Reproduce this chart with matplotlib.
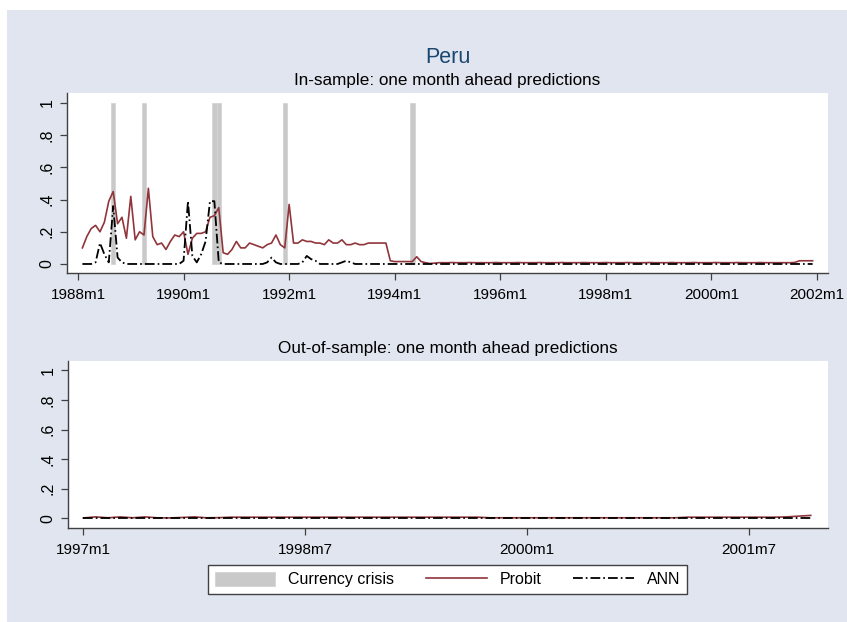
import numpy as np
import matplotlib
matplotlib.use("Agg")
import matplotlib.pyplot as plt
from matplotlib.patches import Rectangle, Patch
from matplotlib.lines import Line2D

plt.rcParams.update({
    "font.family": ["Liberation Sans", "DejaVu Sans"],
    "font.size": 11,
    "lines.scale_dashes": False,
})

# ---- data ----
IN_ORIGIN, IN_START = "1988m1", "1988m2"
OUT_ORIGIN, OUT_START = "1997m1", "1997m1"

crisis_months = ["1988m9", "1989m4", "1990m8", "1990m9", "1991m12", "1994m5"]

probit_in = [
    0.10, 0.17, 0.22, 0.24, 0.20, 0.26, 0.39, 0.45, 0.25, 0.29, 0.16, 0.42,
    0.15, 0.20, 0.18, 0.47, 0.17, 0.12, 0.13, 0.09, 0.14, 0.18, 0.17, 0.20,
    0.06, 0.16, 0.19, 0.19, 0.20, 0.29, 0.30, 0.35, 0.07, 0.06, 0.09, 0.14,
    0.10, 0.10, 0.13, 0.12, 0.11, 0.10, 0.12, 0.13, 0.18, 0.12, 0.10, 0.37,
    0.13, 0.13, 0.15, 0.14, 0.14, 0.13, 0.13, 0.12, 0.15, 0.13, 0.13, 0.15,
    0.12, 0.12, 0.13, 0.12, 0.12, 0.13, 0.13, 0.13, 0.13, 0.13, 0.02, 0.015,
    0.015, 0.015, 0.015, 0.015, 0.045, 0.015, 0.008, 0.003, 0.005, 0.008,
    0.008, 0.008, 0.009, 0.008, 0.008, 0.008, 0.009, 0.008, 0.008, 0.008,
    0.008, 0.008,
    0.009, 0.008, 0.008, 0.008, 0.008, 0.009, 0.008, 0.008, 0.008, 0.008,
    0.009, 0.008, 0.008, 0.008, 0.008, 0.009, 0.008, 0.008, 0.008, 0.008,
    0.009, 0.008, 0.008, 0.008, 0.008, 0.009, 0.008, 0.008, 0.008, 0.008,
    0.009, 0.008, 0.008, 0.008, 0.008, 0.009, 0.008, 0.008, 0.008, 0.008,
    0.009, 0.008, 0.008, 0.008, 0.008, 0.009, 0.008, 0.008, 0.008, 0.008,
    0.009, 0.008, 0.008, 0.008, 0.008, 0.009, 0.008, 0.008, 0.008, 0.008,
    0.009, 0.008, 0.008, 0.008, 0.008, 0.008, 0.008, 0.008, 0.010, 0.020,
    0.020, 0.020, 0.020,
]

ann_in = [
    0.0, 0.0, 0.0, 0.01, 0.13, 0.06, 0.01, 0.36, 0.04, 0.01, 0.0, 0.0,
    0.0, 0.0, 0.0, 0.0, 0.0, 0.0, 0.0, 0.0, 0.0, 0.0, 0.0, 0.02,
    0.39, 0.05, 0.01, 0.06, 0.14, 0.39, 0.39, 0.01, 0.0, 0.0, 0.0, 0.0,
    0.0, 0.0, 0.0, 0.0, 0.0, 0.0, 0.01, 0.04, 0.01, 0.0, 0.0, 0.0,
    0.0, 0.0, 0.01, 0.05, 0.03, 0.02, 0.0, 0.0, 0.0, 0.0, 0.0, 0.01,
    0.02, 0.01, 0.0, 0.0, 0.0, 0.0, 0.0, 0.0, 0.0, 0.0, 0.0, 0.0,
    0.0, 0.0, 0.0, 0.0, 0.0, 0.0, 0.0, 0.0, 0.0, 0.0, 0.0, 0.0,
    0.0, 0.0, 0.0, 0.0, 0.0, 0.0, 0.0, 0.0, 0.0, 0.0, 0.0, 0.0,
    0.0, 0.0, 0.0, 0.0, 0.0, 0.0, 0.0, 0.0, 0.0, 0.0, 0.0, 0.0,
    0.0, 0.0, 0.0, 0.0, 0.0, 0.0, 0.0, 0.0, 0.0, 0.0, 0.0, 0.0,
    0.0, 0.0, 0.0, 0.0, 0.0, 0.0, 0.0, 0.0, 0.0, 0.0, 0.0, 0.0,
    0.0, 0.0, 0.0, 0.0, 0.0, 0.0, 0.0, 0.0, 0.0, 0.0, 0.0, 0.0,
    0.0, 0.0, 0.0, 0.0, 0.0, 0.0, 0.0, 0.0, 0.0, 0.0, 0.0, 0.0,
    0.0, 0.0, 0.0, 0.0, 0.0, 0.0, 0.0, 0.0, 0.0, 0.0, 0.0,
]

probit_out = [
    0.003, 0.010, 0.004, 0.010, 0.004, 0.010, 0.004, 0.003, 0.006, 0.010,
    0.004, 0.005, 0.008, 0.008, 0.008, 0.008, 0.008, 0.008, 0.008, 0.008,
    0.008, 0.008, 0.008, 0.008, 0.008, 0.008, 0.008, 0.008, 0.008, 0.008,
    0.008, 0.008, 0.008, 0.004, 0.004, 0.004, 0.004, 0.004, 0.004, 0.004,
    0.004, 0.004, 0.004, 0.004, 0.004, 0.004, 0.004, 0.004, 0.004, 0.008,
    0.008, 0.008, 0.008, 0.008, 0.008, 0.008, 0.008, 0.010, 0.015, 0.020,
]

ann_out = [
    0.0, 0.0, 0.0, 0.0, 0.0, 0.0, 0.0, 0.0, 0.0, 0.0,
    0.0, 0.0, 0.0, 0.0, 0.0, 0.0, 0.0, 0.0, 0.0, 0.0,
    0.0, 0.0, 0.0, 0.0, 0.0, 0.0, 0.0, 0.0, 0.0, 0.0,
    0.0, 0.0, 0.0, 0.0, 0.0, 0.0, 0.0, 0.0, 0.0, 0.0,
    0.0, 0.0, 0.0, 0.0, 0.0, 0.0, 0.0, 0.0, 0.0, 0.0,
    0.0, 0.0, 0.0, 0.0, 0.0, 0.0, 0.0, 0.0, 0.0, 0.0,
]

in_ticks = ["1988m1", "1990m1", "1992m1", "1994m1", "1996m1", "1998m1", "2000m1", "2002m1"]
out_ticks = ["1997m1", "1998m7", "2000m1", "2001m7"]
y_ticks = [0, 0.2, 0.4, 0.6, 0.8, 1.0]
y_labels = ["0", ".2", ".4", ".6", ".8", "1"]


def month_index(label, origin):
    y, m = label.split("m")
    y0, m0 = origin.split("m")
    return (int(y) - int(y0)) * 12 + int(m) - int(m0)


# ---- style ----
BG = "#e0e5ef"
RED = "#90353b"
AXC = "#404040"
ANN_DASH = (0, (7, 2.2, 1.2, 2.2))
W, H = 847, 622

fig = plt.figure(figsize=(W / 100, H / 100), dpi=100, facecolor="white")
fig.patches.append(Rectangle((7 / W, 0), 1, 1 - 10 / H, transform=fig.transFigure,
                             facecolor=BG, edgecolor="none", zorder=-10))

ax1 = fig.add_axes([67 / W, 1 - 273 / H, 761 / W, 180 / H])
ax2 = fig.add_axes([68 / W, 1 - 528 / H, 760 / W, 167 / H])


def style(ax):
    for s in ("top", "right"):
        ax.spines[s].set_visible(False)
    for s in ("left", "bottom"):
        ax.spines[s].set_color(AXC)
        ax.spines[s].set_linewidth(1.0)
    ax.tick_params(direction="out", length=5, width=0.9, color=AXC,
                   labelsize=11, labelcolor="black")
    ax.tick_params(axis="x", pad=6)
    ax.tick_params(axis="y", pad=4)
    ax.set_yticks(y_ticks)
    ax.set_yticklabels(y_labels, rotation=90, va="center", fontsize=11.5)
    ax.set_facecolor("white")


# top panel: in-sample
x_in = month_index(IN_START, IN_ORIGIN) + np.arange(len(probit_in))
crisis_x = [month_index(c, IN_ORIGIN) for c in crisis_months]
ax1.bar(crisis_x, [1.0] * len(crisis_x), width=1.0, color="#c9c9c9",
        edgecolor="#d4d4d4", linewidth=0.6, zorder=1)
ax1.plot(x_in, probit_in, color=RED, lw=1.2, zorder=2)
ax1.plot(x_in, ann_in, color="black", lw=1.3, linestyle=ANN_DASH, zorder=3)
ax1.set_xlim(-2.5, 170.5)
ax1.set_ylim(-0.056, 1.062)
ax1.set_xticks([month_index(t, IN_ORIGIN) for t in in_ticks])
ax1.set_xticklabels(in_ticks)
style(ax1)

# bottom panel: out-of-sample
x_out = month_index(OUT_START, OUT_ORIGIN) + np.arange(len(probit_out))
ax2.plot(x_out, probit_out, color=RED, lw=1.2, zorder=2)
ax2.plot(x_out, ann_out, color="black", lw=1.3, linestyle=ANN_DASH, zorder=3)
ax2.set_xlim(-1.24, 60.4)
ax2.set_ylim(-0.065, 1.063)
ax2.set_xticks([month_index(t, OUT_ORIGIN) for t in out_ticks])
ax2.set_xticklabels(out_ticks)
style(ax2)

# titles
cx = 447.5 / W
fig.text(cx, 1 - 63 / H, "Peru", ha="center", va="baseline", fontsize=15.5, color="#1a476f")
fig.text(cx, 1 - 84.5 / H, "In-sample: one month ahead predictions", ha="center",
         va="baseline", fontsize=12.3)
fig.text(cx, 1 - 353.5 / H, "Out-of-sample: one month ahead predictions", ha="center",
         va="baseline", fontsize=12.3)

# legend
handles = [
    Patch(facecolor="#c9c9c9", edgecolor="#d4d4d4", linewidth=0.6),
    Line2D([], [], color=RED, lw=1.2),
    Line2D([], [], color="black", lw=1.3, linestyle=ANN_DASH),
]
leg = fig.legend(handles, ["Currency crisis", "Probit", "ANN"], loc="center",
                 bbox_to_anchor=(cx, 1 - 579.5 / H), ncol=3, fontsize=11.5,
                 frameon=True, fancybox=False, framealpha=1, edgecolor=AXC,
                 handlelength=3.8, handleheight=1.0, handletextpad=0.8,
                 columnspacing=2.0, borderpad=0.42, borderaxespad=0)
leg.get_frame().set_linewidth(1.0)

fig.savefig("out.png", dpi=100, facecolor=fig.get_facecolor())
